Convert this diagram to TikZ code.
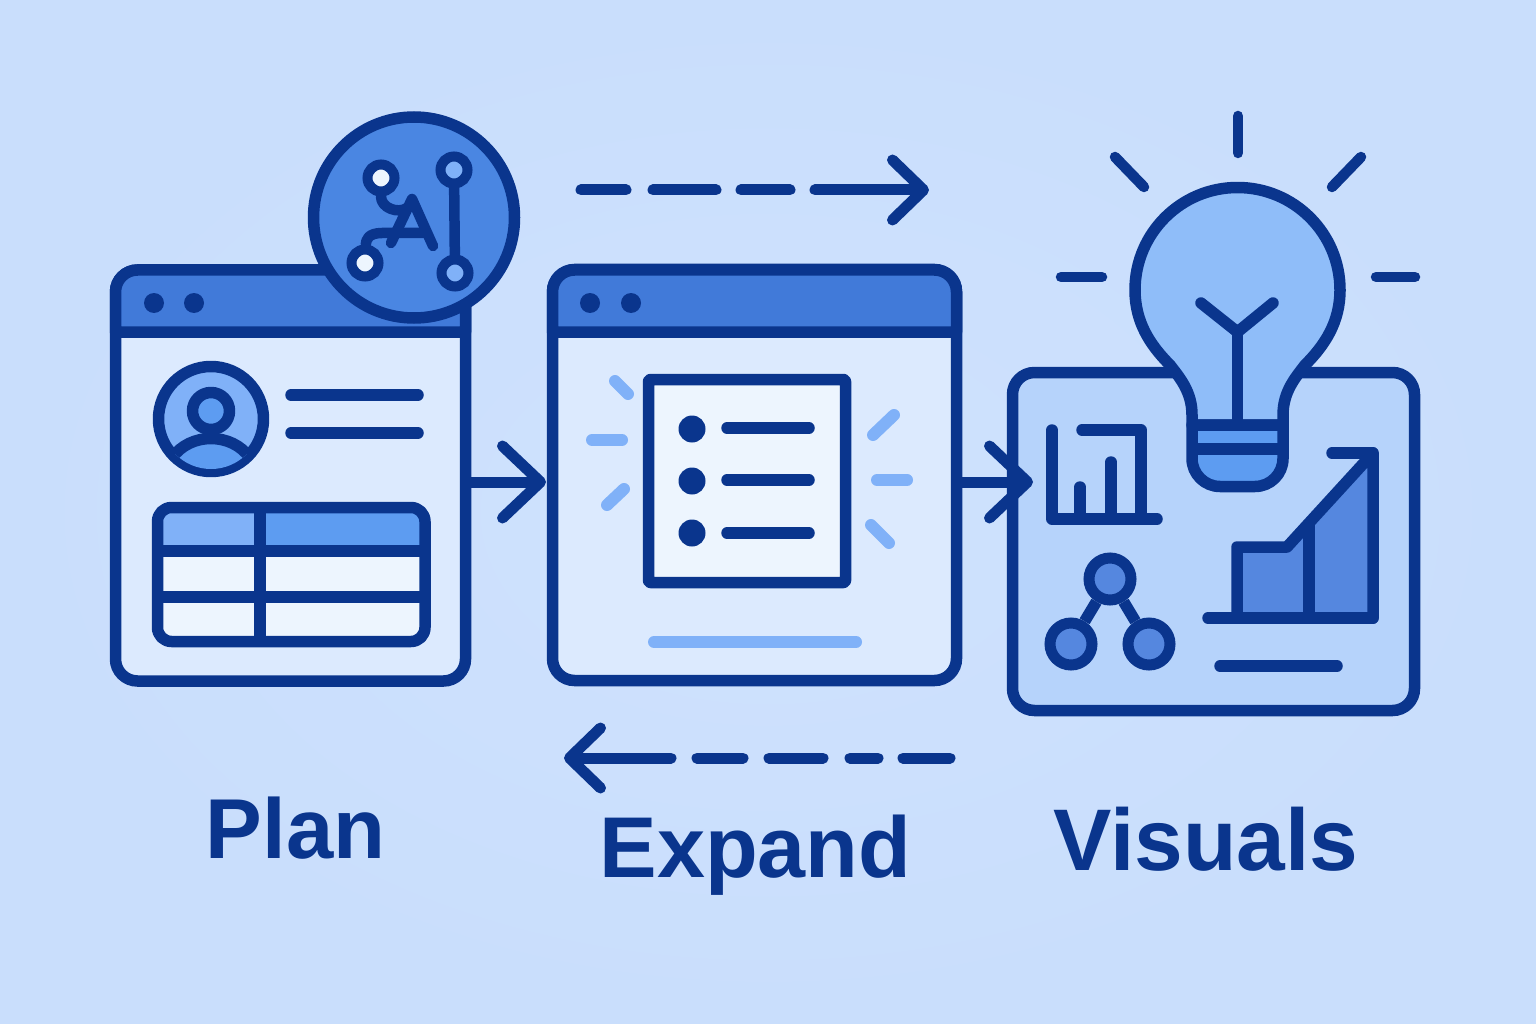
\documentclass[tikz,border=0pt]{standalone}
\usepackage{fontspec}
\setmainfont{Liberation Sans}
\usetikzlibrary{arrows.meta}
\definecolor{inkblue}{HTML}{0A358D}
\definecolor{bgblue}{HTML}{C9DEFC}
\definecolor{bglight}{HTML}{CFE2FE}
\definecolor{barblue}{HTML}{417AD9}
\definecolor{aiblue}{HTML}{4A86E2}
\definecolor{winblue}{HTML}{DCEAFE}
\definecolor{panelblue}{HTML}{B6D3FB}
\definecolor{bulbblue}{HTML}{8FBDF9}
\definecolor{midblue}{HTML}{5D9CF1}
\definecolor{softblue}{HTML}{80B1F8}
\definecolor{chartblue}{HTML}{5587DF}
\definecolor{paleblue}{HTML}{EDF5FE}
\tikzset{
  ink/.style={draw=inkblue,line width=11.5pt,line cap=round,line join=round},
  thin ink/.style={draw=inkblue,line width=10.5pt,line cap=round,line join=round},
  spark/.style={draw=softblue,line width=12pt,line cap=round},
  winbox/.style={draw=inkblue,line width=11.5pt,fill=winblue,rounded corners=22pt,inner sep=0pt},
  hub/.style={circle,draw=inkblue,line width=10pt,fill=#1,inner sep=0pt,minimum size=27pt},
  netdot/.style={circle,draw=inkblue,line width=11pt,fill=chartblue,inner sep=0pt,minimum size=42pt},
  barbed/.style={-{Straight Barb[length=31pt,width=60pt,round]}},
  bigbarbed/.style={-{Straight Barb[length=38pt,width=72pt,round]}},
  title/.style={text=inkblue,font=\fontsize{#1}{90}\selectfont\bfseries,inner sep=0pt,anchor=base}
}
\begin{document}
\begin{tikzpicture}[x=1pt,y=-1pt]
\useasboundingbox (0,0) rectangle (1536,1024);
\shade[inner color=bglight,outer color=bgblue] (0,0) rectangle (1536,1024);

% plan window
\node[winbox,minimum width=350pt,minimum height=411pt] (planwin) at (290.5,475.5) {};
\draw[ink,fill=barblue] (115.5,332) -- (115.5,292) arc (180:270:22) -- (443.5,270) arc (270:360:22) -- (465.5,332) -- cycle;
\fill[inkblue] (154,303) circle (10) (194,303) circle (10);
\draw[ink,fill=softblue] (211,419) circle (52.5);
\begin{scope}
\clip (211,419) circle (50);
\draw[ink,fill=midblue] (172,458) .. controls (190,432) and (232,432) .. (250,458) -- (250,490) -- (172,490) -- cycle;
\end{scope}
\draw[ink,fill=midblue] (211,411) circle (18.5);
\draw[ink] (291,395) -- (418,395);
\draw[ink] (291,433) -- (418,433);
\begin{scope}
\clip[rounded corners=14pt] (157.5,507.5) rectangle (425,641.5);
\fill[softblue] (157,507) rectangle (260,551);
\fill[midblue] (260,507) rectangle (426,551);
\fill[paleblue] (157,551) rectangle (426,642);
\end{scope}
\draw[ink,rounded corners=14pt] (157.5,507.5) rectangle (425,641.5);
\draw[ink,line cap=butt] (157.5,551) -- (425,551);
\draw[ink,line cap=butt] (157.5,597) -- (425,597);
\draw[ink,line cap=butt] (260,507.5) -- (260,641.5);

% ai badge
\node[circle,draw=inkblue,line width=11.5pt,fill=aiblue,minimum size=201pt,inner sep=0pt] (aibadge) at (414,217.5) {};
\node[hub=paleblue] (aitl) at (381,178) {};
\node[hub=softblue] (aitr) at (454,170) {};
\node[hub=paleblue] (aibl) at (365,263) {};
\node[hub=softblue] (aibr) at (455,273) {};
\draw[thin ink] (aitr) -- (aibr);
\draw[thin ink] (391,243) -- (412,199) -- (433,246);
\draw[thin ink] (aitl) .. controls (381,208) and (398,214) .. (407,208);
\draw[thin ink] (aibl) .. controls (366,240) and (368,233) .. (382,233) -- (424,233);

% expand window
\node[winbox,minimum width=404pt,minimum height=411pt] (expandwin) at (754.5,475) {};
\draw[ink,fill=barblue] (552.5,332) -- (552.5,292) arc (180:270:22) -- (934.5,270) arc (270:360:22) -- (956.5,332) -- cycle;
\fill[inkblue] (590,303) circle (10) (631,303) circle (10);
\draw[ink,fill=paleblue,rounded corners=2pt] (648.5,379.5) rectangle (845.5,582.5);
\fill[inkblue] (692,429) circle (13.5) (692,481) circle (13.5) (692,533) circle (13.5);
\draw[ink] (727,428) -- (809,428);
\draw[ink] (727,480) -- (809,480);
\draw[ink] (727,533) -- (809,533);
\draw[spark] (615,381) -- (628,394);
\draw[spark] (592,440) -- (622,440);
\draw[spark] (607,505) -- (624,489);
\draw[spark] (873,435) -- (894,415);
\draw[spark] (877,480) -- (907,480);
\draw[spark] (871,525) -- (889,543);
\draw[spark] (654,642) -- (856,642);

% visuals panel
\node[winbox,fill=panelblue,minimum width=402pt,minimum height=338pt] (visualpanel) at (1213.5,541.5) {};
\draw[ink] (1052,430) -- (1052,519) -- (1157,519);
\draw[ink] (1082,430) -- (1141,430) -- (1141,519);
\draw[ink] (1080,487) -- (1080,519);
\draw[ink] (1111,462) -- (1111,519);
\node[netdot] (nettop) at (1110,579) {};
\node[netdot] (netleft) at (1071,644) {};
\node[netdot] (netright) at (1149,644) {};
\draw[ink,line cap=butt] (nettop) -- (netleft);
\draw[ink,line cap=butt] (nettop) -- (netright);
\draw[ink,fill=chartblue] (1237,618) -- (1237,547) -- (1287,547) -- (1373,453) -- (1373,618) -- cycle;
\draw[ink] (1208,618) -- (1373,618);
\draw[ink] (1332,453) -- (1373,453);
\draw[ink,line cap=butt] (1309,522) -- (1309,618);
\draw[ink] (1220,666) -- (1337,666);

% bulb
\draw[ink,fill=bulbblue] (1192,425) -- (1192,415) .. controls (1192,392) and (1180,378) .. (1170,365) .. controls (1150,345) and (1135,322) .. (1135,290) arc (180:360:102.5) .. controls (1340,322) and (1325,345) .. (1305,365) .. controls (1295,378) and (1283,392) .. (1283,415) -- (1283,425) -- cycle;
\draw[ink,fill=midblue] (1192,425) -- (1192,458.5) arc (180:90:28) -- (1255,486.5) arc (90:0:28) -- (1283,425) -- cycle;
\draw[ink,line cap=butt] (1192,449) -- (1283,449);
\draw[ink] (1237.5,425) -- (1237.5,332);
\draw[ink] (1201,303) -- (1237.5,332) -- (1273,303);
\draw[thin ink] (1238,116) -- (1238,153);
\draw[thin ink] (1115,157) -- (1144,187);
\draw[thin ink] (1361,157) -- (1332,187);
\draw[thin ink] (1061,277) -- (1102,277);
\draw[thin ink] (1376,277) -- (1415,277);

% arrows between windows
\coordinate (planout) at (471,482);
\coordinate (expandin) at (546,482);
\coordinate (expandout) at (962,482);
\coordinate (visualin) at (1033,482);
\draw[ink,line width=11pt,bigbarbed,line cap=butt] (planout) -- (expandin);
\draw[ink,line width=11pt,bigbarbed,line cap=butt] (expandout) -- (visualin);
\coordinate (forwardstart) at (581,190);
\coordinate (forwardend) at (929,190);
\coordinate (backstart) at (950,758);
\coordinate (backend) at (564,758);
\draw[ink,line width=11pt,barbed,dash pattern=on 45pt off 27pt on 63pt off 25pt on 49pt off 25pt on 300pt off 0pt] (forwardstart) -- (forwardend);
\draw[ink,line width=11pt,barbed,dash pattern=on 47pt off 25pt on 28pt off 27pt on 54pt off 26pt on 46pt off 26pt on 300pt off 0pt] (backstart) -- (backend);

\node[title=85] (plantext) at (295.5,858) {Plan};
\node[title=86.3] (expandtext) at (755.5,877) {Expand};
\node[title=87.5] (visualstext) at (1206,870) {Visuals};
\end{tikzpicture}
\end{document}
